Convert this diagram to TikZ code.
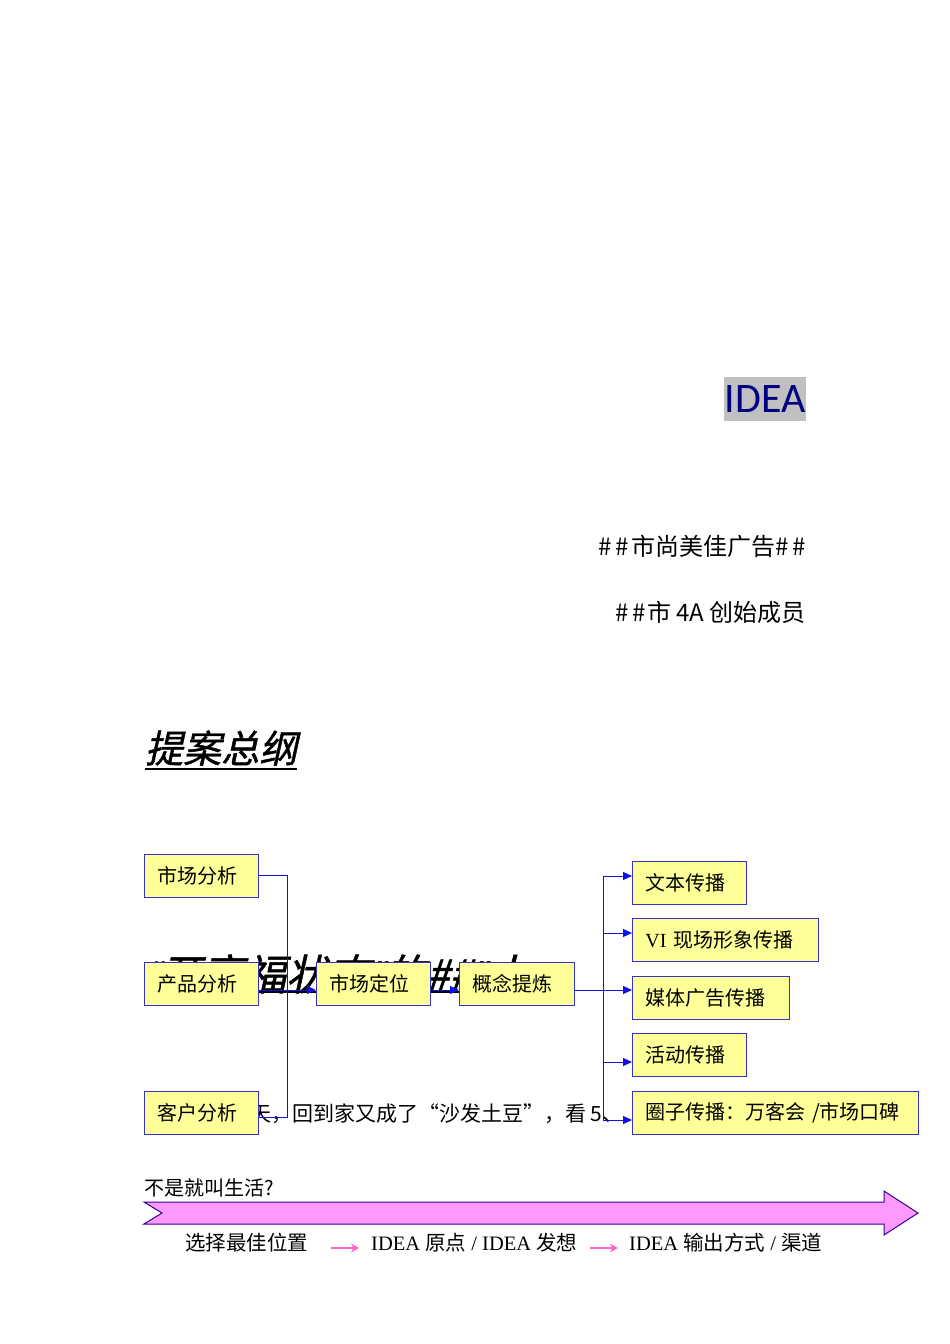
\documentclass[tikz,border=0pt]{standalone}
\usepackage{fontspec}
\setmainfont{Liberation Serif}
\newfontfamily\cjk{Noto Sans CJK SC}
\newfontfamily\cjkit[FakeSlant=0.22,FakeBold=1.2]{Noto Sans CJK SC}
\newfontfamily\latit[FakeSlant=0.22]{Liberation Sans}
\newfontfamily\lat{Liberation Serif}
\newfontfamily\ttl{Carlito}
\usetikzlibrary{arrows.meta,calc}
\definecolor{boxfill}{HTML}{FFFF99}
\definecolor{boxline}{HTML}{3333CC}
\definecolor{linkblue}{HTML}{1010E8}
\definecolor{pinkfill}{HTML}{FF99FF}
\definecolor{pinkline}{HTML}{330099}
\definecolor{pinkarrow}{HTML}{FF66CC}
\definecolor{navy}{HTML}{000080}
\definecolor{greybg}{HTML}{C0C0C0}
\tikzset{
  box/.style={draw=boxline, fill=boxfill, line width=0.9pt, minimum height=43pt,
    inner xsep=13pt, inner ysep=0pt, anchor=north west, align=left,
    font=\cjk\fontsize{20}{20}\selectfont},
  link/.style={draw=linkblue, line width=1pt},
  arr/.style={link, -{Triangle[length=9pt,width=8pt]}},
  small/.style={draw=pinkarrow, line width=2.4pt, -{Stealth[length=8pt,width=9pt]}},
  lbl/.style={inner sep=0pt, font=\fontsize{20.5}{20.5}\selectfont}
}
\begin{document}
\begin{tikzpicture}[x=1pt,y=-1pt]
\path[use as bounding box, fill=white] (0,0) rectangle (950,1344);

% title block
\node[fill=greybg, inner sep=0pt, minimum width=82pt, minimum height=44pt, anchor=north west,
  text=navy, font=\ttl\fontsize{42}{42}\selectfont] (idea) at (724,377) {IDEA};
\node[anchor=east, inner sep=0pt, font=\cjk\fontsize{24}{24}\selectfont] (co) at (806,546) {\#\kern4pt\#\kern2pt市尚美佳广告\#\kern4pt\#};
\node[anchor=east, inner sep=0pt, font=\cjk\fontsize{24}{24}\selectfont] (mem) at (806,612) {\#\kern4pt\#\kern1pt市 4A 创始成员};

% heading
\node[anchor=west, inner sep=0pt, font=\cjkit\fontsize{38}{38}\selectfont] (head) at (145,748) {提案总纲};
\draw[line width=2.4pt] (head.south west) ++(0,3) coordinate (hu1) -- (hu1 -| head.south east);

% background texts partly covered
\node[anchor=base west, inner sep=0pt, font=\cjkit\fontsize{42}{42}\selectfont] (bg1) at (146,990)
  {{\latit “}开享福状态{\latit ”}的\#\#{\latit ”}人};
\draw[line width=1.6pt] (145,992) coordinate (u1) -- (545,992) coordinate (u2);
\node[anchor=base west, inner sep=0pt, font=\cjk\fontsize{21}{21}\selectfont] (bg2) at (250,1121) {天，回到家又成了“沙发土豆”，看 5、};

% boxes (positions)
\path (144,854) coordinate (p1) (144,962) coordinate (p2) (144,1091) coordinate (p3)
      (316,962) coordinate (p4) (459,962) coordinate (p5)
      (632,861) coordinate (q1) (632,918) coordinate (q2) (632,976) coordinate (q3)
      (632,1033) coordinate (q4) (632,1091) coordinate (q5);

% connectors
\draw[link] (p1) ++(114,21.5) coordinate (m1e) -- ++(29,0) coordinate (j1) -- (j1 |- 0,1117) coordinate (j2) -- (j2 -| m1e);
\draw[arr] (258,990) coordinate (a1) -- (316,990) coordinate (a2);
\draw[arr] (430,990) coordinate (a3) -- (459,990) coordinate (a4);
\draw[link] (574,990) coordinate (a5) -- (603,990) coordinate (hub);
\draw[link] (603,876) coordinate (h1) -- (603,1120) coordinate (h5);
\draw[arr] (h1) -- (632,876) coordinate (t1);
\draw[arr] (603,933) coordinate (h2) -- (632,933) coordinate (t2);
\draw[arr] (hub) -- (632,990) coordinate (t3);
\draw[arr] (603,1062) coordinate (h4) -- (632,1062) coordinate (t4);
\draw[arr] (h5) -- (632,1120) coordinate (t5);

\node[box, text width=88pt] (m1) at (p1) {市场分析};
\node[box, text width=88pt] (m2) at (p2) {产品分析};
\node[box, text width=88pt] (m3) at (p3) {客户分析};
\node[box, text width=88pt] (pos) at (p4) {市场定位};
\node[box, text width=89pt] (con) at (p5) {概念提炼};
\node[box, text width=88pt] (r1) at (q1) {文本传播};
\node[box, text width=160pt] (r2) at (q2) {{\lat VI} 现场形象传播};
\node[box, text width=131pt] (r3) at (q3) {媒体广告传播};
\node[box, text width=88pt] (r4) at (q4) {活动传播};
\node[box, text width=260pt] (r5) at (q5) {圈子传播：万客会 /市场口碑};

% timeline
\node[anchor=west, inner sep=0pt, font=\cjk\fontsize{20}{20}\selectfont] (life) at (144,1188) {不是就叫生活?};
\filldraw[fill=pinkfill, draw=pinkline, line width=1pt]
  (144,1202) -- (884,1202) -- (884,1191) -- (918,1213) -- (884,1235) -- (884,1224) -- (144,1224) -- (162,1213) -- cycle;
\node[lbl, anchor=west] (s1) at (185,1243) {\cjk 选择最佳位置};
\node[lbl, anchor=west] (s2) at (371,1243) {IDEA {\cjk 原点} / IDEA {\cjk 发想}};
\node[lbl, anchor=west] (s3) at (629,1243) {IDEA {\cjk 输出方式} / {\cjk 渠道}};
\draw[small] (331,1248) coordinate (k1) -- (359,1248) coordinate (k2);
\draw[small] (590,1248) coordinate (k3) -- (618,1248) coordinate (k4);
\end{tikzpicture}
\end{document}
